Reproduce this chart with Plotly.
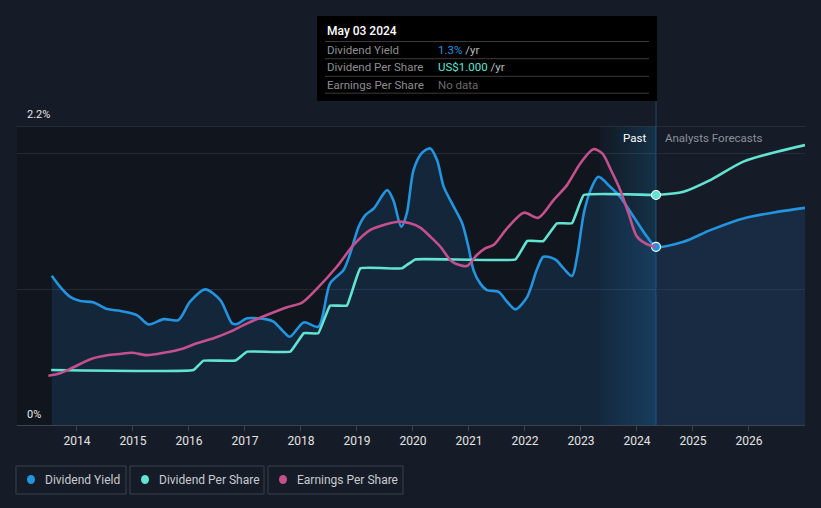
import plotly.graph_objects as go

# ---------------- data ----------------
yield_x = [2013.55, 2013.70, 2013.88, 2014.06, 2014.30, 2014.54, 2014.77, 2015.07, 2015.28, 2015.55,
           2015.81, 2016.02, 2016.29, 2016.56, 2016.77, 2016.86, 2017.04, 2017.39, 2017.51, 2017.66,
           2017.80, 2018.05, 2018.31, 2018.52, 2018.76, 2018.88, 2019.03, 2019.15, 2019.30, 2019.54,
           2019.65, 2019.79, 2019.89, 2020.01, 2020.16, 2020.31, 2020.43, 2020.55, 2020.73, 2020.88,
           2020.99, 2021.08, 2021.20, 2021.32, 2021.53, 2021.68, 2021.83, 2022.04, 2022.21, 2022.33,
           2022.54, 2022.69, 2022.84, 2022.93, 2023.05, 2023.17, 2023.31, 2023.52, 2023.70, 2023.94,
           2024.18, 2024.34]
yield_pct = [1.098, 1.017, 0.943, 0.912, 0.902, 0.853, 0.840, 0.809, 0.740, 0.779,
             0.772, 0.907, 0.998, 0.919, 0.748, 0.743, 0.785, 0.777, 0.760, 0.699,
             0.649, 0.755, 0.723, 1.042, 1.140, 1.263, 1.458, 1.544, 1.593, 1.728,
             1.654, 1.458, 1.557, 1.875, 2.002, 2.035, 1.949, 1.752, 1.605, 1.483,
             1.311, 1.140, 1.042, 0.993, 0.980, 0.907, 0.851, 0.943, 1.140, 1.238,
             1.218, 1.152, 1.096, 1.238, 1.557, 1.728, 1.826, 1.753, 1.679, 1.532,
             1.385, 1.311]
yield_fc_x = [2024.83, 2025.31, 2025.90, 2026.50, 2027.00]
yield_fc_pct = [1.348, 1.434, 1.520, 1.568, 1.598]

dps_x = [2013.54, 2016.08, 2016.26, 2016.83, 2017.04, 2017.81, 2018.05, 2018.31, 2018.52, 2018.82,
         2019.06, 2019.80, 2020.04, 2021.83, 2022.04, 2022.33, 2022.57, 2022.84, 2023.05, 2024.34]
dps_usd = [0.239, 0.239, 0.280, 0.280, 0.319, 0.319, 0.399, 0.399, 0.519, 0.519,
           0.681, 0.681, 0.720, 0.720, 0.800, 0.800, 0.877, 0.877, 1.000, 1.000]
dps_fc_x = [2024.83, 2025.31, 2025.90, 2026.50, 2027.00]
dps_fc_usd = [1.014, 1.065, 1.145, 1.188, 1.217]

eps_x = [2013.49, 2013.70, 2013.94, 2014.24, 2014.54, 2014.77, 2014.98, 2015.25, 2015.55, 2015.90,
         2016.14, 2016.44, 2016.74, 2017.04, 2017.39, 2017.75, 2018.02, 2018.29, 2018.64, 2018.94,
         2019.24, 2019.54, 2019.74, 2019.95, 2020.13, 2020.31, 2020.49, 2020.70, 2020.96, 2021.14,
         2021.29, 2021.44, 2021.68, 2021.98, 2022.24, 2022.51, 2022.75, 2022.99, 2023.22, 2023.38,
         2023.55, 2023.70, 2023.85, 2024.00, 2024.18, 2024.33]
eps_usd = [0.214, 0.225, 0.251, 0.286, 0.303, 0.309, 0.314, 0.304, 0.314, 0.333,
           0.355, 0.377, 0.406, 0.442, 0.478, 0.512, 0.532, 0.594, 0.688, 0.783,
           0.848, 0.874, 0.884, 0.877, 0.858, 0.819, 0.775, 0.710, 0.691, 0.739,
           0.768, 0.783, 0.855, 0.923, 0.901, 0.978, 1.043, 1.138, 1.199, 1.181,
           1.101, 1.022, 0.920, 0.819, 0.786, 0.775]

year_ticks = [2014, 2015, 2016, 2017, 2018, 2019, 2020, 2021, 2022, 2023, 2024, 2025, 2026]
y_labels = ["0%", "2.2%"]
legend_names = ["Dividend Yield", "Dividend Per Share", "Earnings Per Share"]
tip_date = "May 03 2024"
tip_rows = [("Dividend Yield", "1.3%", " /yr"), ("Dividend Per Share", "US$1.000", " /yr"),
            ("Earnings Per Share", "No data", "")]

# ---------------- styling ----------------
W, H = 821, 508
L, R, T, B = 17, 16, 126, 83
PW, PH = W - L - R, H - T - B
X_MIN, X_MAX = 2012.93, 2027.0
Y_MAX = 2.2
Y2_MAX = 1.3

BG = "#161c27"
PAST_BG = "#11161e"
BLUE = "#2394df"
TEAL = "#63e3d1"
PINK = "#c4508d"
ROBOTO = "Roboto, sans-serif"

past_end = yield_x[-1]
band_start = past_end - 1.0


def px(x):
    return (x - L) / PW


def py(y):
    return (H - B - y) / PH


fig = go.Figure()

# highlighted last year band
fig.add_trace(go.Scatter(x=[band_start, past_end, past_end, band_start, band_start],
                         y=[0, 0, Y_MAX, Y_MAX, 0], mode="none", fill="toself",
                         fillgradient=dict(type="horizontal",
                                           colorscale=[[0, "rgba(35,148,223,0.03)"],
                                                       [1, "rgba(35,148,223,0.22)"]]),
                         hoverinfo="skip", showlegend=False))

# dividend yield with area
fig.add_trace(go.Scatter(x=yield_x + yield_fc_x, y=yield_pct + yield_fc_pct, mode="lines",
                         line=dict(color=BLUE, width=2.6, shape="spline", smoothing=0.8),
                         fill="tozeroy", fillcolor="rgba(35,120,200,0.17)",
                         name=legend_names[0], showlegend=False))

# DPS (past + forecast) & EPS on a hidden US$ axis
fig.add_trace(go.Scatter(x=dps_x, y=dps_usd, mode="lines", yaxis="y2",
                         line=dict(color=TEAL, width=2.6, shape="spline", smoothing=0.25),
                         name=legend_names[1], showlegend=False))
fig.add_trace(go.Scatter(x=dps_x[-1:] + dps_fc_x, y=dps_usd[-1:] + dps_fc_usd, mode="lines",
                         yaxis="y2",
                         line=dict(color=TEAL, width=2.6, shape="spline", smoothing=0.8),
                         showlegend=False))
fig.add_trace(go.Scatter(x=eps_x, y=eps_usd, mode="lines", yaxis="y2",
                         line=dict(color=PINK, width=2.6, shape="spline", smoothing=0.8),
                         name=legend_names[2], showlegend=False))

# end markers
fig.add_trace(go.Scatter(x=[dps_x[-1]], y=[dps_usd[-1]], mode="markers", yaxis="y2",
                         marker=dict(color=TEAL, size=9, line=dict(color="white", width=1.2)),
                         showlegend=False))
fig.add_trace(go.Scatter(x=[yield_x[-1]], y=[yield_pct[-1]], mode="markers",
                         marker=dict(color=BLUE, size=9, line=dict(color="white", width=1.2)),
                         showlegend=False))

shapes = []
# darker past background (below gridlines)
shapes.append(dict(type="rect", xref="paper", yref="y", x0=0, x1=(past_end - X_MIN) / (X_MAX - X_MIN),
                   y0=0, y1=Y_MAX, fillcolor=PAST_BG, line=dict(width=0), layer="below"))
# top line at 2.2%
shapes.append(dict(type="line", xref="paper", yref="y", x0=0, x1=1, y0=Y_MAX, y1=Y_MAX,
                   line=dict(color="#3a4049", width=1), layer="above"))
# past / forecast divider
shapes.append(dict(type="line", xref="x", yref="paper", x0=past_end, x1=past_end, y0=0,
                   y1=py(101), line=dict(color="#1c4868", width=1), layer="between"))
# tooltip box
shapes.append(dict(type="rect", xref="paper", yref="paper", x0=px(317), x1=px(657),
                   y0=py(101), y1=py(16), fillcolor="#000000", line=dict(width=0), layer="above"))
for sy in [41.5, 58.7, 76.3, 93.2]:
    shapes.append(dict(type="line", xref="paper", yref="paper", x0=px(325), x1=px(649),
                       y0=py(sy), y1=py(sy), line=dict(color="#3a3a3a", width=1), layer="above"))

annotations = []
annotations.append(dict(text=tip_date, xref="paper", yref="paper", x=px(325), y=py(31),
                        xanchor="left", yanchor="middle", showarrow=False,
                        font=dict(family=ROBOTO, size=12, color="#ffffff", weight=500)))
row_y = [49.5, 66.5, 84.5]
val_colors = [BLUE, TEAL, "#6b6b6b"]
for (lab, val, unit), ry, vc in zip(tip_rows, row_y, val_colors):
    annotations.append(dict(text=lab, xref="paper", yref="paper", x=px(325), y=py(ry),
                            xanchor="left", yanchor="middle", showarrow=False,
                            font=dict(family=ROBOTO, size=11.5, color="#8f8f8f")))
    txt = f"<span style='color:{vc}'>{val}</span>" + (f"<span style='color:#bdbdbd'>{unit}</span>" if unit else "")
    annotations.append(dict(text=txt, xref="paper", yref="paper", x=px(436), y=py(ry),
                            xanchor="left", yanchor="middle", showarrow=False,
                            font=dict(family=ROBOTO, size=11.5, color=vc)))

# y labels
annotations.append(dict(text=y_labels[1], xref="paper", yref="y", x=px(25), y=Y_MAX, yshift=12,
                        xanchor="left", yanchor="middle", showarrow=False,
                        font=dict(family=ROBOTO, size=11, color="#e6e6e6")))
annotations.append(dict(text=y_labels[0], xref="paper", yref="y", x=px(25), y=0, yshift=11,
                        xanchor="left", yanchor="middle", showarrow=False,
                        font=dict(family=ROBOTO, size=11, color="#e6e6e6")))

# Past / Analysts Forecasts
annotations.append(dict(text="Past", xref="x", yref="paper", x=past_end, y=py(138), xshift=-8,
                        xanchor="right", yanchor="middle", showarrow=False,
                        font=dict(family=ROBOTO, size=11.5, color="#ffffff")))
annotations.append(dict(text="Analysts Forecasts", xref="x", yref="paper", x=past_end, y=py(138),
                        xshift=7, xanchor="left", yanchor="middle", showarrow=False,
                        font=dict(family=ROBOTO, size=11.5, color="#8a9099")))

# custom legend
boxes = [(16, 126), (130, 264), (268, 403)]
leg_colors = [BLUE, TEAL, PINK]
for (bx0, bx1), name, col in zip(boxes, legend_names, leg_colors):
    shapes.append(dict(type="rect", xref="paper", yref="paper", x0=px(bx0), x1=px(bx1),
                       y0=py(494), y1=py(466), line=dict(color="#3a404b", width=1),
                       fillcolor="rgba(0,0,0,0)"))
    shapes.append(dict(type="circle", xref="paper", yref="paper", x0=px(bx0 + 11), x1=px(bx0 + 19),
                       y0=py(484), y1=py(475), fillcolor=col, line=dict(width=0)))
    annotations.append(dict(text=name, xref="paper", yref="paper", x=px(bx0 + 27), y=py(480),
                            xanchor="left", yanchor="middle", showarrow=False,
                            font=dict(family=ROBOTO, size=12, color="#c9cbd0")))

fig.update_layout(
    width=W, height=H,
    margin=dict(l=L, r=R, t=T, b=B, pad=0),
    paper_bgcolor=BG, plot_bgcolor=BG,
    showlegend=False,
    xaxis=dict(range=[X_MIN, X_MAX], tickvals=year_ticks, ticktext=[str(y) for y in year_ticks],
               showgrid=False, zeroline=False, showline=True, linecolor="#3d434c", linewidth=1,
               ticks="outside", ticklen=5, tickcolor="#3d434c",
               tickfont=dict(family=ROBOTO, size=12, color="#e4e4e4"), fixedrange=True),
    yaxis=dict(range=[0, Y_MAX], tickvals=[1, 2], showticklabels=False, showgrid=True,
               gridcolor="#252b35", gridwidth=1, zeroline=False, fixedrange=True),
    yaxis2=dict(range=[0, Y2_MAX], overlaying="y", side="right", visible=False, showgrid=False,
                fixedrange=True),
    shapes=shapes,
    annotations=annotations,
    hovermode=False,
)

fig.write_html("out.html", config={"displayModeBar": False},
               post_script="document.body.style.margin='0';document.body.style.overflow='hidden';")
